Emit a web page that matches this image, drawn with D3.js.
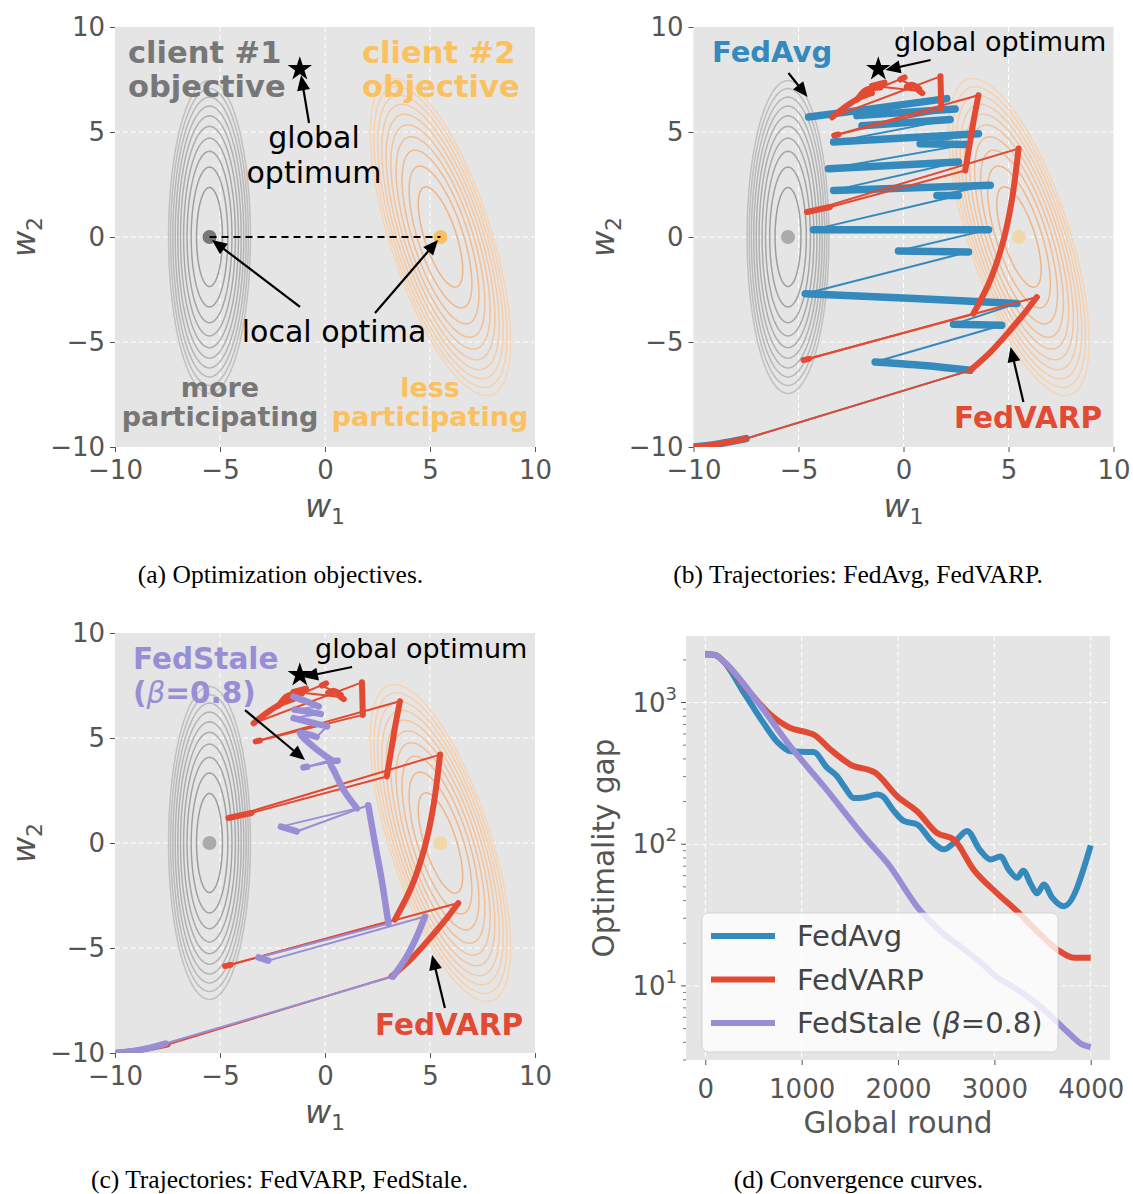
<!DOCTYPE html>
<html>
<head>
<meta charset="utf-8">
<script src="https://cdn.jsdelivr.net/npm/d3@7"></script>
<style>
  body { margin: 0; background: #fff; }
  svg { display: block; }
  text { font-family: "DejaVu Sans", sans-serif; }
</style>
</head>
<body>
<svg id="fig" width="1133" height="1194"></svg>
<script>
// ---------------- data ----------------
const w1Ticks = [-10, -5, 0, 5, 10];
const w2Ticks = [-10, -5, 0, 5, 10];

// quadratic client objectives: level sets drawn as contours
const contourLevels = [0.1, 0.2, 0.3, 0.4, 0.5, 0.6, 0.7, 0.8, 0.9, 1.0];
const client1Center = [-5.5, 0];
const client1SemiAxes = [1.95, 7.45];   // outermost level, along tilted w1 / w2 directions
const client1TiltDeg = 0;
const client2Center = [5.5, 0];
const client2SemiAxes = [2.4, 7.9];
const client2TiltDeg = 18;
const globalOptimum = [-1.2, 8];

// optimisation trajectories in (w1, w2): each run is a stretch of dense local
// iterates; consecutive runs are joined by a single large server step
const fedavgRuns = [
  [[-10, -10], [-8.8, -9.85], [-7.5, -9.6]],
  [[3.17, -6.35], [1.0, -6.12], [-1.35, -5.95]],
  [[4.68, -4.2], [2.38, -4.16]],
  [[5.4, -3.17], [0.5, -2.93], [-4.68, -2.7]],
  [[3.1, -0.71], [-0.24, -0.67]],
  [[4.05, 0.35], [-4.29, 0.35]],
  [[2.62, 1.98], [1.59, 1.98]],
  [[4.13, 2.46], [-3.33, 2.22]],
  [[2.62, 3.57], [-3.57, 3.25]],
  [[3.02, 4.41], [0.79, 4.44]],
  [[3.57, 4.92], [-3.33, 4.52]],
  [[2.22, 5.59], [-1.98, 5.3]],
  [[2.46, 6.1], [-2.22, 5.78]],
  [[2.06, 6.59], [-1.2, 6.15], [-4.52, 5.71]]
];

const fedvarpRuns = [
  [[-10, -10], [-8.8, -9.85], [-7.5, -9.6]],
  [[3.17, -6.35], [4.13, -5.49], [5.08, -4.44], [5.87, -3.49], [6.35, -2.86]],
  [[-4.76, -5.86], [-4.5, -5.8]],
  [[3.33, -3.65], [4.13, -2.06], [4.76, -0.16], [5.16, 1.75], [5.48, 4.21]],
  [[-4.6, 1.19], [-3.5, 1.43]],
  [[2.94, 3.17], [3.15, 4.4], [3.35, 5.6], [3.57, 6.75]],
  [[-3.3, 4.84], [-3.1, 4.88]],
  [[1.8, 6.1], [1.78, 6.9], [1.76, 7.65]],
  [[-3.4, 5.7], [-2.7, 6.25], [-2.05, 6.65], [-1.5, 6.85]],
  [[-2.2, 6.55], [-1.8, 7.0], [-1.1, 7.12]],
  [[0.05, 7.6], [-0.15, 7.5]],
  [[0.75, 7.05], [0.4, 7.25], [0.15, 7.15]],
  [[0.9, 6.85], [0.75, 6.95]],
  [[-1.5, 7.2], [-0.9, 7.35]]
];

const fedstaleRuns = [
  [[-10, -10], [-8.8, -9.85], [-7.6, -9.55]],
  [[3.24, -6.36], [3.89, -5.41], [4.37, -4.46], [4.76, -3.5]],
  [[-2.7, -5.6], [-3.17, -5.45]],
  [[3.02, -3.83], [2.7, -1.76], [2.38, -0.02], [2.06, 1.8]],
  [[-1.35, 0.55], [-2.1, 0.78]],
  [[1.52, 1.65], [0.89, 2.52], [0.45, 3.4], [0.25, 3.85], [0.6, 3.92]],
  [[-1.03, 3.6], [-0.85, 3.63]],
  [[0.3, 3.95], [-0.56, 4.59], [-1.2, 5.25], [-0.4, 5.05]],
  [[0.1, 5.55], [-0.7, 5.75], [-1.5, 5.95]],
  [[-0.2, 6.15], [-0.8, 6.25], [-1.45, 6.35]],
  [[-0.3, 6.5], [-0.9, 6.75], [-1.5, 6.97]]
];

// convergence: [global round, optimality gap]
const roundTicks = [0, 1000, 2000, 3000, 4000];
const gapTicks = [10, 100, 1000];
const fedavgCurve = [[0, 2188], [100, 2163], [190, 1950], [400, 1175], [600, 724], [750, 525],
  [883, 453], [1000, 449], [1125, 447], [1264, 347], [1367, 302], [1450, 251], [1540, 212],
  [1650, 214], [1783, 224], [1835, 219], [1950, 174], [2059, 146], [2198, 138], [2350, 105],
  [2475, 92], [2578, 102], [2717, 124], [2850, 91], [2960, 78], [3063, 82], [3150, 66],
  [3237, 58], [3300, 65], [3380, 52], [3444, 45], [3513, 52], [3600, 42], [3721, 36.5], [4000, 98]];
const fedvarpCurve = [[0, 2188], [100, 2163], [190, 1950], [467, 1169], [675, 822], [883, 662],
  [1050, 617], [1125, 594], [1298, 466], [1506, 365], [1765, 319], [1990, 218], [2198, 171],
  [2406, 120], [2578, 108], [2786, 66], [3029, 45], [3237, 33.6], [3444, 24.3], [3652, 18.1],
  [3825, 15.8], [4000, 15.8]];
const fedstaleCurve = [[0, 2188], [100, 2163], [190, 1950], [536, 1023], [883, 490], [1229, 257],
  [1679, 107], [1887, 74], [2233, 33.9], [2450, 24], [2682, 18.2], [2850, 14.8], [3029, 11.5],
  [3200, 9.8], [3548, 6.5], [3750, 4.8], [3900, 3.9], [4000, 3.7]];

const seriesNames = ["FedAvg", "FedVARP", "FedStale"];

// ---------------- style ----------------
const C = {
  bg: "#E5E5E5", axis: "#555", blue: "#348ABD", red: "#E24A33",
  purple: "#988ED5", gray: "#777777", yellow: "#FBC15E"
};

const fig = d3.select("#fig");
fig.append("rect").attr("width", 1133).attr("height", 1194).attr("fill", "#fff");
const defs = fig.append("defs");

function styleAxis(sel, size) {
  sel.attr("font-family", null).attr("font-size", null);
  sel.select(".domain").remove();
  sel.selectAll(".tick line").attr("stroke", C.axis);
  sel.selectAll(".tick text").attr("fill", C.axis)
    .style("font-size", size + "px").style("font-family", "DejaVu Sans");
}

function gridLines(g, x, y, xs, ys) {
  const [xa, xb] = x.range(), [yb, ya] = y.range();
  g.selectAll(null).data(xs).join("line")
    .attr("x1", d => x(d)).attr("x2", d => x(d)).attr("y1", ya).attr("y2", yb)
    .attr("stroke", "#fff").attr("stroke-width", 1).attr("stroke-dasharray", "5,3");
  g.selectAll(null).data(ys).join("line")
    .attr("y1", d => y(d)).attr("y2", d => y(d)).attr("x1", xa).attr("x2", xb)
    .attr("stroke", "#fff").attr("stroke-width", 1).attr("stroke-dasharray", "5,3");
}

function arrow(g, from, to) {
  const [x1, y1] = from, [x2, y2] = to;
  const dx = x2 - x1, dy = y2 - y1, L = Math.hypot(dx, dy), ux = dx / L, uy = dy / L;
  const hl = 15, hw = 6.5;
  const bx = x2 - ux * hl, by = y2 - uy * hl;
  g.append("line").attr("x1", x1).attr("y1", y1).attr("x2", bx + ux * 2).attr("y2", by + uy * 2)
    .attr("stroke", "#000").attr("stroke-width", 2.2);
  g.append("path")
    .attr("d", `M${x2},${y2}L${bx - uy * hw},${by + ux * hw}L${bx + uy * hw},${by - ux * hw}Z`)
    .attr("fill", "#000");
}

function wLabel(g, px, py, idx, rotate) {
  const t = g.append("text")
    .attr("transform", `translate(${px},${py})` + (rotate ? " rotate(-90)" : ""))
    .attr("text-anchor", "middle").attr("fill", C.axis).style("font-size", "32px");
  t.append("tspan").text("w").style("font-style", "italic");
  t.append("tspan").text(idx).attr("dy", 7).style("font-size", "22px");
}

function ellipse(center, semi, tiltDeg, level) {
  const th = tiltDeg * Math.PI / 180, s = Math.sqrt(level);
  const d1 = [Math.cos(th), Math.sin(th)], d2 = [-Math.sin(th), Math.cos(th)];
  return d3.range(0, 361, 3).map(a => {
    const t = a * Math.PI / 180;
    const p = s * semi[0] * Math.cos(t), q = s * semi[1] * Math.sin(t);
    return [center[0] + p * d1[0] + q * d2[0], center[1] + p * d1[1] + q * d2[1]];
  });
}

let clipId = 0;
function landscapePanel(x0, y0, faded) {
  const x = d3.scaleLinear([-10, 10], [x0, x0 + 420]);
  const y = d3.scaleLinear([-10, 10], [y0 + 420, y0]);
  const g = fig.append("g");
  g.append("rect").attr("x", x0).attr("y", y0).attr("width", 420).attr("height", 420).attr("fill", C.bg);
  gridLines(g.append("g"), x, y, [-5, 0, 5], [-5, 0, 5]);

  const ax = g.append("g").attr("transform", `translate(0,${y0 + 420})`)
    .call(d3.axisBottom(x).tickValues(w1Ticks).tickSize(5).tickPadding(9));
  styleAxis(ax, 26);
  const ay = g.append("g").attr("transform", `translate(${x0},0)`)
    .call(d3.axisLeft(y).tickValues(w2Ticks).tickSize(5).tickPadding(5));
  styleAxis(ay, 26);
  wLabel(g, x0 + 210, y0 + 490, "1", false);
  wLabel(g, x0 - 80, y0 + 210, "2", true);

  const id = "clip" + (clipId++);
  defs.append("clipPath").attr("id", id).append("rect")
    .attr("x", x0).attr("y", y0).attr("width", 420).attr("height", 420);
  const plot = g.append("g").attr("clip-path", `url(#${id})`);

  const line = d3.line().x(d => x(d[0])).y(d => y(d[1])).curve(d3.curveLinearClosed);
  const grayC = d3.interpolateRgb("#9d9d9d", "#c0c0c0");
  const orC = d3.interpolateRgb("#F2B383", "#F8D4B2");
  contourLevels.forEach((lv, i) => {
    const f = i / (contourLevels.length - 1);
    plot.append("path").attr("d", line(ellipse(client1Center, client1SemiAxes, client1TiltDeg, lv)))
      .attr("fill", "none").attr("stroke", grayC(f)).attr("stroke-width", 1.5);
    plot.append("path").attr("d", line(ellipse(client2Center, client2SemiAxes, client2TiltDeg, lv)))
      .attr("fill", "none").attr("stroke", orC(f)).attr("stroke-width", 1.5);
  });
  plot.append("circle").attr("cx", x(client1Center[0])).attr("cy", y(client1Center[1])).attr("r", 7)
    .attr("fill", faded ? "#ababab" : C.gray);
  plot.append("circle").attr("cx", x(client2Center[0])).attr("cy", y(client2Center[1])).attr("r", 7)
    .attr("fill", faded ? "#F2D8A6" : C.yellow);
  return { g, plot, x, y };
}

function drawStar(g, x, y) {
  g.append("path").attr("d", d3.symbol().type(d3.symbolStar).size(185)())
    .attr("transform", `translate(${x(globalOptimum[0])},${y(globalOptimum[1])})`)
    .attr("fill", "#000");
}

function drawTrajectory(g, runs, color, x, y, thick) {
  const seg = d3.line().x(d => x(d[0])).y(d => y(d[1]));
  const smooth = d3.line().x(d => x(d[0])).y(d => y(d[1])).curve(d3.curveCatmullRom);
  const jumps = d3.pairs(runs).map(([a, b]) => [a[a.length - 1], b[0]]);
  g.append("g").selectAll("path").data(jumps).join("path")
    .attr("d", seg).attr("fill", "none").attr("stroke", color).attr("stroke-width", 2);
  g.append("g").selectAll("path").data(runs).join("path")
    .attr("d", smooth).attr("fill", "none").attr("stroke", color).attr("stroke-width", thick)
    .attr("stroke-linecap", "round").attr("stroke-linejoin", "round");
}

function multiText(g, lines, px, py, lh, opts) {
  lines.forEach((s, i) => {
    g.append("text").attr("x", px).attr("y", py + i * lh)
      .attr("text-anchor", opts.anchor || "start")
      .attr("fill", opts.color).style("font-size", opts.size + "px")
      .style("font-weight", opts.bold ? "bold" : "normal").text(s);
  });
}

// ---------------- (a) optimization objectives ----------------
{
  const { g, plot, x, y } = landscapePanel(115, 27, false);
  plot.append("line").attr("x1", x(client1Center[0])).attr("y1", y(client1Center[1]))
    .attr("x2", x(client2Center[0])).attr("y2", y(client2Center[1]))
    .attr("stroke", "#000").attr("stroke-width", 2).attr("stroke-dasharray", "7,5");
  drawStar(plot, x, y);
  multiText(g, ["client #1", "objective"], 128, 63, 34, { color: C.gray, size: 30.5, bold: true });
  multiText(g, ["client #2", "objective"], 362, 63, 34, { color: C.yellow, size: 30.5, bold: true });
  multiText(g, ["global", "optimum"], 314, 148, 35, { color: "#000", size: 30, anchor: "middle" });
  multiText(g, ["local optima"], 334, 342, 0, { color: "#000", size: 30, anchor: "middle" });
  multiText(g, ["more", "participating"], 220, 397, 29, { color: C.gray, size: 27, bold: true, anchor: "middle" });
  multiText(g, ["less", "participating"], 430, 397, 29, { color: C.yellow, size: 27, bold: true, anchor: "middle" });
  arrow(g, [x(-0.76), y(5.43)], [x(-1.14), y(7.7)]);
  arrow(g, [x(-1.19), y(-3.33)], [x(-5.38), y(-0.14)]);
  arrow(g, [x(2.38), y(-3.62)], [x(5.38), y(-0.14)]);
}

// ---------------- (b) FedAvg vs FedVARP ----------------
{
  const { g, plot, x, y } = landscapePanel(693.5, 27, true);
  drawTrajectory(plot, fedavgRuns, C.blue, x, y, 7.5);
  drawTrajectory(plot, fedvarpRuns, C.red, x, y, 6);
  drawStar(plot, x, y);
  multiText(g, ["FedAvg"], 712, 62, 0, { color: C.blue, size: 29, bold: true });
  multiText(g, ["global optimum"], 894, 51, 0, { color: "#000", size: 27 });
  multiText(g, ["FedVARP"], 954, 428, 0, { color: C.red, size: 29.5, bold: true });
  arrow(g, [x(1.29), y(8.43)], [x(-0.86), y(7.95)]);
  arrow(g, [x(-5.48), y(7.81)], [x(-4.57), y(6.67)]);
  arrow(g, [x(5.71), y(-7.86)], [x(5.1), y(-5.24)]);
}

// ---------------- (c) FedVARP vs FedStale ----------------
{
  const { g, plot, x, y } = landscapePanel(115, 633, true);
  drawTrajectory(plot, fedvarpRuns, C.red, x, y, 6);
  drawTrajectory(plot, fedstaleRuns, C.purple, x, y, 6.5);
  drawStar(plot, x, y);
  multiText(g, ["FedStale"], 133, 669, 0, { color: C.purple, size: 29.5, bold: true });
  const beta = g.append("text").attr("x", 133).attr("y", 703).attr("fill", C.purple)
    .style("font-size", "29.5px").style("font-weight", "bold");
  beta.append("tspan").text("(");
  beta.append("tspan").text("β").style("font-style", "italic").style("font-weight", "normal");
  beta.append("tspan").text("=0.8)");
  multiText(g, ["global optimum"], 315, 658, 0, { color: "#000", size: 27 });
  multiText(g, ["FedVARP"], 375, 1035, 0, { color: C.red, size: 29.5, bold: true });
  arrow(g, [x(-3.81), y(6.33)], [x(-0.95), y(3.95)]);
  arrow(g, [x(1.29), y(8.38)], [x(-1.05), y(7.9)]);
  arrow(g, [x(5.71), y(-7.86)], [x(5.1), y(-5.33)]);
}

// ---------------- (d) convergence curves ----------------
{
  const x0 = 686, x1 = 1110, yTop = 636, yBot = 1060;
  const x = d3.scaleLinear([-200, 4200], [x0, x1]);
  const y = d3.scaleLog([3.0, 2948], [yBot, yTop]);
  const g = fig.append("g");
  g.append("rect").attr("x", x0).attr("y", yTop).attr("width", x1 - x0).attr("height", yBot - yTop).attr("fill", C.bg);
  gridLines(g.append("g"), x, y, roundTicks, gapTicks);

  const ax = g.append("g").attr("transform", `translate(0,${yBot})`)
    .call(d3.axisBottom(x).tickValues(roundTicks).tickFormat(d3.format("d")).tickSize(5).tickPadding(15));
  styleAxis(ax, 26);

  // log axis: major and minor ticks
  const [lo, hi] = y.domain();
  const minors = [];
  for (let k = 0; k <= 3; k++) for (let m = 2; m <= 9; m++) {
    const v = m * Math.pow(10, k);
    if (v >= lo && v <= hi) minors.push(v);
  }
  g.selectAll(null).data(minors).join("line")
    .attr("x1", x0 - 3).attr("x2", x0).attr("y1", d => y(d)).attr("y2", d => y(d))
    .attr("stroke", C.axis).attr("stroke-width", 0.8);
  g.selectAll(null).data(gapTicks).join("line")
    .attr("x1", x0 - 5).attr("x2", x0).attr("y1", d => y(d)).attr("y2", d => y(d))
    .attr("stroke", C.axis).attr("stroke-width", 1);
  gapTicks.forEach(v => {
    const t = g.append("text").attr("x", x0 - 9).attr("y", y(v) + 9)
      .attr("text-anchor", "end").attr("fill", C.axis).style("font-size", "26px");
    t.append("tspan").text("10");
    t.append("tspan").text(String(Math.round(Math.log10(v)))).attr("dy", -12).style("font-size", "18px");
  });

  g.append("text").attr("transform", `translate(614,${(yTop + yBot) / 2}) rotate(-90)`)
    .attr("text-anchor", "middle").attr("fill", C.axis).style("font-size", "29.5px").text("Optimality gap");
  g.append("text").attr("x", 898).attr("y", 1133).attr("text-anchor", "middle")
    .attr("fill", C.axis).style("font-size", "29.5px").text("Global round");

  const id = "clip" + (clipId++);
  defs.append("clipPath").attr("id", id).append("rect")
    .attr("x", x0).attr("y", yTop).attr("width", x1 - x0).attr("height", yBot - yTop);
  const plot = g.append("g").attr("clip-path", `url(#${id})`);
  const line = d3.line().x(d => x(d[0])).y(d => y(d[1])).curve(d3.curveMonotoneX);
  const curves = [fedavgCurve, fedvarpCurve, fedstaleCurve];
  const colors = [C.blue, C.red, C.purple];
  curves.forEach((c, i) => {
    plot.append("path").attr("d", line(c)).attr("fill", "none")
      .attr("stroke", colors[i]).attr("stroke-width", 6).attr("stroke-linejoin", "round");
  });

  // legend
  const lg = g.append("g");
  lg.append("rect").attr("x", 702).attr("y", 913).attr("width", 356).attr("height", 139).attr("rx", 6)
    .attr("fill", "#fff").attr("fill-opacity", 0.8).attr("stroke", "#cccccc").attr("stroke-opacity", 0.8);
  seriesNames.forEach((n, i) => {
    const ly = 936 + i * 43.5;
    lg.append("line").attr("x1", 711).attr("x2", 775).attr("y1", ly).attr("y2", ly)
      .attr("stroke", colors[i]).attr("stroke-width", 6);
    const t = lg.append("text").attr("x", 797).attr("y", ly + 10).attr("fill", "#444").style("font-size", "29px");
    if (n === "FedStale") {
      t.append("tspan").text("FedStale (");
      t.append("tspan").text("β").style("font-style", "italic");
      t.append("tspan").text("=0.8)");
    } else t.text(n);
  });
}

// ---------------- captions ----------------
const captions = [
  ["(a) Optimization objectives.", 280.5, 583],
  ["(b) Trajectories: FedAvg, FedVARP.", 858, 583],
  ["(c) Trajectories: FedVARP, FedStale.", 279.5, 1188],
  ["(d) Convergence curves.", 858.5, 1188]
];
captions.forEach(([s, cx, cy]) => {
  fig.append("text").attr("x", cx).attr("y", cy).attr("text-anchor", "middle")
    .style("font-family", "'Liberation Serif', serif").style("font-size", "25.5px")
    .attr("fill", "#000").text(s);
});
</script>
</body>
</html>
